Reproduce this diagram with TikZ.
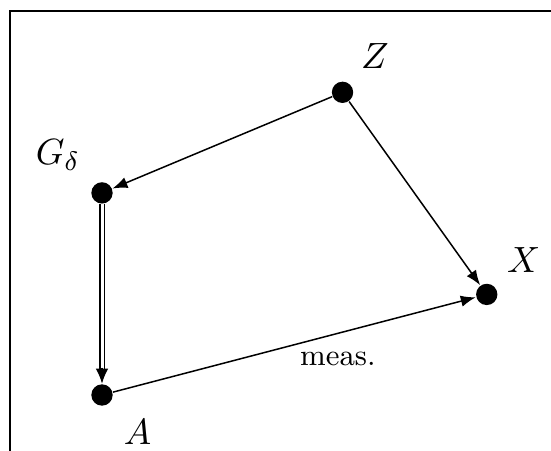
\documentclass[tikz,border=0pt]{standalone}
\usepackage{amsmath, amssymb}
\usepackage{tikz}
\usetikzlibrary{arrows.meta}
\tikzset{pt/.style={circle, fill, inner sep=0pt, minimum size=6.4pt}}
\tikzset{arr/.style={-{Latex[length=4.5pt, width=3.4pt]}, line width=0.45pt}}
\tikzset{lbl/.style={font=\fontsize{11}{13}\selectfont}}

\begin{document}
\begin{tikzpicture}[scale=1.0]
\useasboundingbox (0,0) rectangle (5.807,4.753);
\draw[line width=0.6pt] (0.11,-0.3) rectangle (6.1,4.64);
\node[pt] (z) at (3.61,3.78) {};
\node[pt] (g) at (1.075,2.72) {};
\node[pt] (a) at (1.075,0.59) {};
\node[pt] (x) at (5.13,1.65) {};
\node[lbl] (zl) at (3.95,4.16) {$Z$};
\node[lbl] (gl) at (0.61,3.12) {$G_\delta$};
\node[lbl] (al) at (1.45,0.20) {$A$};
\node[lbl] (xl) at (5.52,2.01) {$X$};
\draw[arr] (z) -- (g);
\draw[arr] (z) -- (x);
\draw[arr] (a) -- (x) node[pos=0.62, below=2pt, font=\small] (ml) {meas.};
% double arrow: two lines, then the tip on its own
\draw[line width=0.45pt, double, double distance=0.9pt, shorten >=4.3pt] (g) -- (a);
\draw[arr, -{Latex[length=4.5pt, width=3.8pt]}, shorten <=49pt] (g) -- (a);
\end{tikzpicture}
\end{document}
